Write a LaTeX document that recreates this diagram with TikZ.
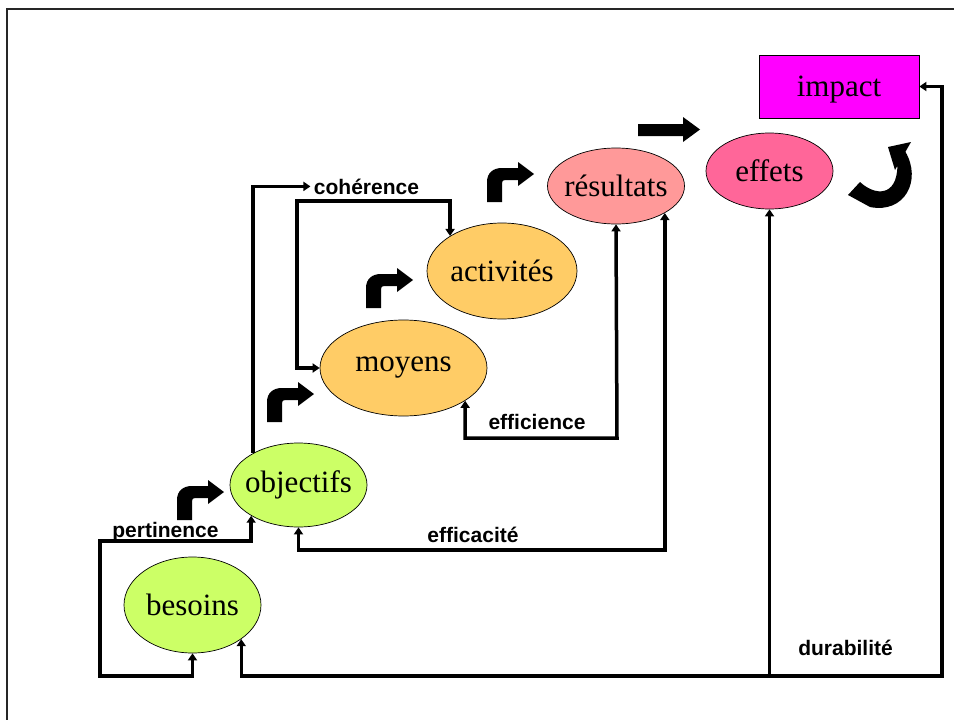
\documentclass[tikz,border=0pt]{standalone}
\usepackage{fontspec}
\setmainfont{Liberation Serif}
\setsansfont{Liberation Sans}
\usetikzlibrary{shapes.geometric,arrows.meta,calc}

\definecolor{vert}{HTML}{CCFF66}
\definecolor{orange}{HTML}{FFCC66}
\definecolor{saumon}{HTML}{FF9999}
\definecolor{rose}{HTML}{FF6699}
\definecolor{magenta}{HTML}{FF00FF}

\begin{document}
\begin{tikzpicture}[x=1pt,y=-1pt,
  >={Triangle[width=9pt,length=7pt]},
  etape/.style={ellipse,draw,line width=0.7pt,inner xsep=-12pt,inner ysep=0pt,font=\fontsize{31}{31}\selectfont},
  critere/.style={anchor=base,font=\sffamily\bfseries\fontsize{21}{21}\selectfont},
  lien/.style={line width=3.5pt}]
  \useasboundingbox (0,0) rectangle (954,720);
  \draw[line width=2pt,black!85] (7,730) -- (7,9) -- (964,9);

  \node[etape,fill=vert,minimum width=137pt,minimum height=96pt] (besoins) at (192.5,605) {besoins};
  \node[etape,fill=vert,minimum width=137pt,minimum height=84pt] (objectifs) at (298.5,485) {objectifs};
  \node[etape,fill=orange,minimum width=167pt,minimum height=96pt] (moyens) at (403.5,368) {moyens};
  \node[etape,fill=orange,minimum width=150pt,minimum height=96pt] (activites) at (502,271) {activités};
  \node[etape,fill=saumon,minimum width=137pt,minimum height=76pt] (resultats) at (616,186) {résultats};
  \node[etape,fill=rose,minimum width=127pt,minimum height=76pt] (effets) at (769.5,171) {effets};
  \node[draw,line width=0.7pt,fill=magenta,minimum width=160pt,minimum height=63pt,text depth=0pt,
    font=\fontsize{31}{31}\selectfont] (impact) at (839,86.5) {impact};

  \node[critere] (pertinence) at (165.5,537) {pertinence};
  \node[critere] (coherence) at (366.5,194) {cohérence};
  \node[critere] (efficience) at (537,429) {efficience};
  \node[critere] (efficacite) at (473,542) {efficacité};
  \node[critere] (durabilite) at (845.5,655) {durabilité};

  \draw[lien,<->] (besoins.south) |- (100,676) -- (100,541) -| (objectifs.213);
  \draw[lien,->] (objectifs.145) |- (coherence.west);
  \draw[lien,<->] (moyens.west) -| (297,201) -| (activites.146.4);
  \draw[lien,<->] (moyens.-28) |- (617,438) -- (resultats.south);
  \draw[lien,<->] (objectifs.south) -- (298.5,550) -| (resultats.-29.4);
  \draw[lien,<->] (besoins.-35.5) |- (942,676) |- (impact.east);
  \draw[lien,->] (effets.south |- 0,676) -- (effets.south);

  \foreach \x/\y in {177/520, 267/422, 366/308, 487/202}
    \fill[shift={(\x,\y)}] (0,0) -- (0,-20) .. controls (0,-29) and (6,-34) .. (15,-34) -- (31,-34)
      -- (31,-40) -- (47,-28) -- (31,-16) -- (31,-22) -- (18,-22) .. controls (16,-22) and (15,-21) .. (15,-19)
      -- (15,0) -- cycle;
  \fill (638,124) -- (683,124) -- (683,117) -- (700,129.5) -- (683,142) -- (683,136) -- (638,136) -- cycle;
  \fill (848,195) -- (860,182) .. controls (875,196) and (897,197) .. (897.4,165.8) -- (895,170) -- (888,147)
    -- (911,142) -- (905.4,151.8) .. controls (922,180) and (905,214) .. (870,207) -- cycle;
\end{tikzpicture}
\end{document}
